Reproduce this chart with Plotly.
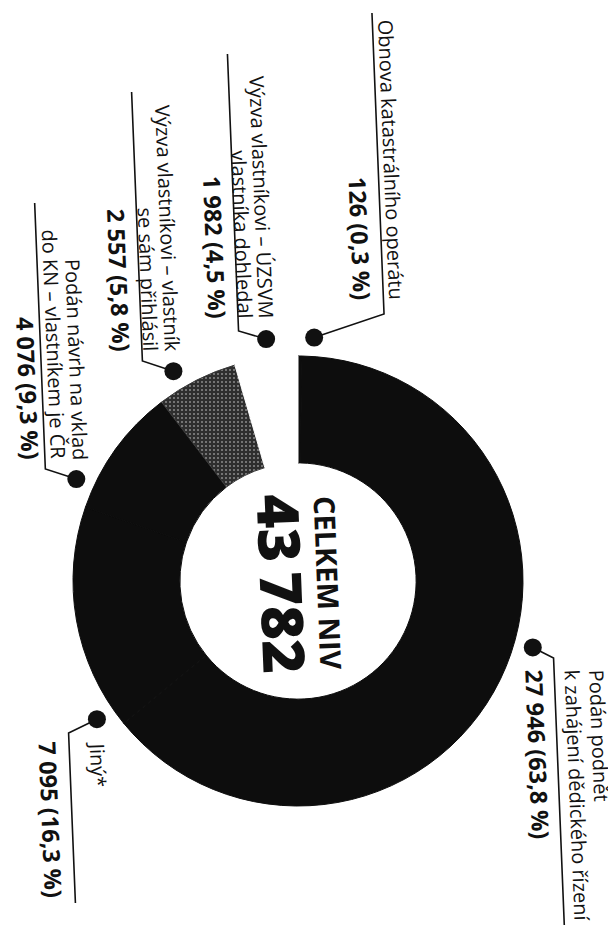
import math
import plotly.graph_objects as go

# ---------------- data ----------------
categories = [
    "Obnova katastrálního operátu",
    "Podán podnět k zahájení dědického řízení",
    "Jiný*",
    "Podán návrh na vklad do KN – vlastníkem je ČR",
    "Výzva vlastníkovi – vlastník se sám přihlásil",
    "Výzva vlastníkovi – ÚZSVM vlastníka dohledal",
]
label_lines = [
    ["Obnova katastrálního operátu"],
    ["Podán podnět", "k zahájení dědického řízení"],
    ["Jiný*"],
    ["Podán návrh na vklad", "do KN – vlastníkem je ČR"],
    ["Výzva vlastníkovi – vlastník", "se sám přihlásil"],
    ["Výzva vlastníkovi – ÚZSVM", "vlastníka dohledal"],
]
values = [126, 27946, 7095, 4076, 2557, 1982]
percents = [0.3, 63.8, 16.3, 9.3, 5.8, 4.5]
center_title = "CELKEM NIV"

# ---------------- style / layout ----------------
W, H = 616, 925
CX, CY, R = 290, 573, 225
HOLE = 0.525
slice_colors = ["#0d0d0d", "#0d0d0d", "#0d0d0d", "#0d0d0d", "#3a3a3a", "#ffffff"]
INK = "#111111"
FONT = "Open Sans"
TILT = 2.3                       # scan is slightly rotated
TA = 90 - TILT                   # text angle (clockwise)
SLOPE = math.tan(math.radians(TILT))
NAME_SIZE = 20
VALUE_SIZE = 23.5
DOT_R = 244

# per label: name-line x centres, value x centre, leader x (mid), text anchor y,
# leader y-range, dot angle (deg clockwise from 12 o'clock), side ('top' labels are end-aligned)
geom = [
    dict(nx=[383], vx=352, lx=370, ty=294, ly=(5, 306), ang=3.8, side="top"),
    dict(nx=[591, 569], vx=530, lx=551, ty=659, ly=(650, 921), ang=105.8, side="bottom"),
    dict(nx=[90], vx=43, lx=64, ty=731, ly=(725, 895), ang=235.5, side="bottom"),
    dict(nx=[68, 46], vx=20, lx=32, ty=454, ly=(195, 461), ang=294.7, side="top"),
    dict(nx=[159, 140], vx=111, lx=129, ty=346, ly=(84, 353), ang=329.3, side="top"),
    dict(nx=[253, 234], vx=207, lx=225, ty=313, ly=(46, 323), ang=352.5, side="top"),
]


def fmt_int(n):
    return f"{n:,}".replace(",", "\u00a0")


def fmt_val(v, p):
    return f"{fmt_int(v)} ({str(p).replace('.', ',')} %)"


fig = go.Figure()

# donut
fig.add_trace(go.Pie(
    values=values,
    labels=categories,
    sort=False,
    direction="clockwise",
    rotation=0,
    hole=HOLE,
    marker=dict(colors=slice_colors,
                line=dict(width=1, color=slice_colors),
                pattern=dict(shape=["", "", "", "", ".", ""],
                             fillmode="replace",
                             bgcolor="#2e2e2e", fgcolor="#8c8c8c",
                             size=4, solidity=0.2)),
    textinfo="none",
    hoverinfo="label+value",
    showlegend=False,
    domain=dict(x=[(CX - R) / W, (CX + R) / W],
                y=[(H - CY - R) / H, (H - CY + R) / H]),
))

annotations = []
lx_all, ly_all, dx_all, dy_all = [], [], [], []

for lines, v, p, g in zip(label_lines, values, percents, geom):
    yanchor = "bottom" if g["side"] == "top" else "top"
    for x, t in zip(g["nx"], lines):
        annotations.append(dict(
            x=x, y=g["ty"], xref="x", yref="y", text=t, showarrow=False,
            textangle=TA, xanchor="center", yanchor=yanchor,
            font=dict(family=FONT, size=NAME_SIZE, color=INK)))
    annotations.append(dict(
        x=g["vx"], y=g["ty"], xref="x", yref="y", text=fmt_val(v, p),
        showarrow=False, textangle=TA, xanchor="center", yanchor=yanchor,
        font=dict(family=FONT, size=VALUE_SIZE, color=INK, weight=700)))

    # leader line (slightly tilted like the scan)
    y0, y1 = g["ly"]
    ym = (y0 + y1) / 2
    xt = g["lx"] + SLOPE * (y0 - ym)
    xb = g["lx"] + SLOPE * (y1 - ym)
    a = math.radians(g["ang"])
    dx = CX + DOT_R * math.sin(a)
    dy = CY - DOT_R * math.cos(a)
    if g["side"] == "top":
        lx_all += [xt, xb, dx, None]
        ly_all += [y0, y1, dy, None]
    else:
        lx_all += [dx, xt, xb, None]
        ly_all += [dy, y0, y1, None]
    dx_all.append(dx)
    dy_all.append(dy)

fig.add_trace(go.Scatter(x=lx_all, y=ly_all, mode="lines",
                         line=dict(color=INK, width=1.6), hoverinfo="skip",
                         showlegend=False, cliponaxis=False))
fig.add_trace(go.Scatter(x=dx_all, y=dy_all, mode="markers",
                         marker=dict(color=INK, size=18), hoverinfo="skip",
                         showlegend=False, cliponaxis=False))

# centre text
total = sum(values)
annotations.append(dict(
    x=CX + 31, y=CY + 2, xref="x", yref="y", text=center_title, showarrow=False,
    textangle=TA, xanchor="center", yanchor="middle",
    font=dict(family=FONT, size=29, color=INK, weight=700)))
annotations.append(dict(
    x=CX - 15, y=CY + 3, xref="x", yref="y",
    text=f"{total:,}".replace(",", "\u2009"),
    showarrow=False, textangle=TA, xanchor="center", yanchor="middle",
    font=dict(family=FONT, size=58, color=INK, weight=800)))

fig.update_layout(
    width=W, height=H,
    margin=dict(l=0, r=0, t=0, b=0),
    paper_bgcolor="white", plot_bgcolor="white",
    xaxis=dict(range=[0, W], visible=False, fixedrange=True),
    yaxis=dict(range=[H, 0], visible=False, fixedrange=True),
    annotations=annotations,
)

fig.write_html("out.html")
